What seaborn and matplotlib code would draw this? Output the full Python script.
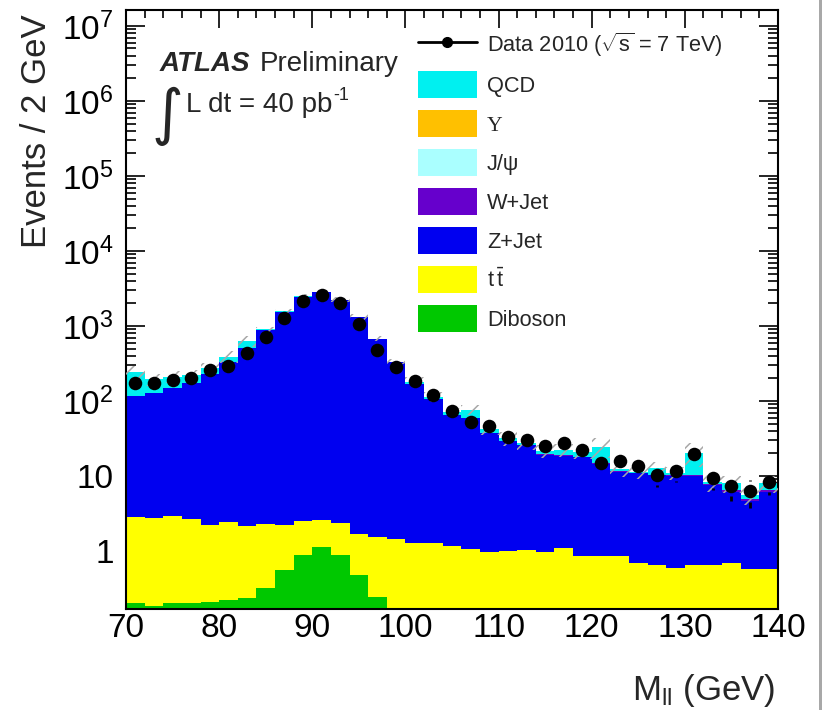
import numpy as np
import pandas as pd
import matplotlib
matplotlib.use("Agg")
import matplotlib.pyplot as plt
import seaborn as sns
from matplotlib.lines import Line2D
from matplotlib.patches import Patch, Rectangle
from matplotlib.ticker import FixedLocator, FixedFormatter, LogLocator, NullFormatter, MultipleLocator

# ---------------- data ----------------
bin_edges = list(range(70, 142, 2))
mass = np.arange(71, 141, 2)

data_events = [173, 175, 190, 203, 260, 291, 440, 710, 1290, 2150, 2600, 2030, 1050,
               478, 287, 187, 119, 74, 53, 46, 33.4, 30.2, 24.9, 27.3, 22.0,
               14.8, 15.8, 13.6, 10.4, 11.7, 19.8, 9.5, 7.4, 6.3, 8.4]

qcd = [130, 67, 63, 47, 44, 56, 126, 15, 23, 60, 30, 20, 14,
       10, 4, 12, 8, 5, 17, 4, 2.5, 1.9, 1.9, 3.2, 3.0,
       9.8, 0.6, 0.3, 2.2, 0.6, 10.2, 0.4, 1.5, 0.5, 1.5]
upsilon = [0.0] * 35
jpsi = [0.0] * 35
wjet = [0.3, 0.3, 0.3, 0.3, 0.3, 0.3, 0.3, 0.3, 0.3, 0.3, 0.3, 0.3, 0.3,
        0.3, 0.3, 0.3, 0.3, 0.3, 0.3, 0.3, 0.3, 0.3, 0.3, 0.3, 0.3,
        0.3, 0.3, 0.3, 0.3, 0.3, 0.3, 0.3, 0.3, 0.3, 0.3]
zjet = [112.9, 123.9, 144.8, 172.1, 226.5, 331.3, 502.5, 882.4, 1534.5, 2437, 2797, 2217, 1304,
        663.2, 329.3, 167.4, 104.4, 64.5, 57.6, 36.7, 28.0, 24.6, 18.3, 17.6, 16.8,
        13.6, 10.5, 10.1, 9.5, 9.4, 9.35, 6.84, 5.5, 4.12, 5.62]
ttbar = [2.60, 2.56, 2.73, 2.44, 2.03, 2.19, 1.94, 1.97, 1.69, 1.66, 1.50, 1.46, 1.19,
         1.27, 1.28, 1.10, 1.10, 0.995, 0.885, 0.795, 0.825, 0.845, 0.785, 0.915, 0.695,
         0.695, 0.675, 0.525, 0.485, 0.415, 0.475, 0.485, 0.525, 0.405, 0.405]
diboson = [0.205, 0.187, 0.20, 0.205, 0.209, 0.22, 0.239, 0.324, 0.553, 0.885, 1.12, 0.876, 0.479,
           0.244, 0.175, 0.175, 0.175, 0.175, 0.175, 0.175, 0.175, 0.175, 0.175, 0.175, 0.175,
           0.175, 0.175, 0.175, 0.175, 0.175, 0.175, 0.175, 0.175, 0.175, 0.175]
# relative MC uncertainty (hatched band)
mc_unc_frac = [0.18, 0.18, 0.18, 0.18, 0.18, 0.18, 0.18, 0.08, 0.08, 0.08, 0.08, 0.08, 0.08,
               0.08, 0.08, 0.15, 0.15, 0.15, 0.15, 0.15, 0.2, 0.2, 0.2, 0.2, 0.2,
               0.3, 0.2, 0.2, 0.2, 0.2, 0.35, 0.25, 0.25, 0.25, 0.25]

processes = ["QCD", "Upsilon", "Jpsi", "W+Jet", "Z+Jet", "ttbar", "Diboson"]
labels = ["QCD", "\u03a5", "J/\u03c8", "W+Jet", "Z+Jet", r"$\mathrm{t\,\bar{t}}$", "Diboson"]
values = [qcd, upsilon, jpsi, wjet, zjet, ttbar, diboson]
colors = {"QCD": "#00F0F0", "Upsilon": "#FFC000", "Jpsi": "#AAFFFF", "W+Jet": "#6600CC",
          "Z+Jet": "#0000F0", "ttbar": "#FFFF00", "Diboson": "#00C800"}

rows = []
for p, v in zip(processes, values):
    for m, e in zip(mass, v):
        rows.append({"mass": float(m), "events": float(e), "process": p})
df = pd.DataFrame(rows)

# ---------------- style ----------------
sns.set_style("ticks")
plt.rcParams["font.family"] = ["Liberation Sans", "DejaVu Sans"]
plt.rcParams["mathtext.fontset"] = "custom"
plt.rcParams["mathtext.rm"] = "Liberation Sans"
plt.rcParams["mathtext.it"] = "Liberation Sans:italic"
plt.rcParams["mathtext.bf"] = "Liberation Sans:bold"
plt.rcParams["hatch.linewidth"] = 1.1

W, H = 822, 710
fig = plt.figure(figsize=(W / 100, H / 100), dpi=100)
fig.patch.set_facecolor("white")
ax = fig.add_axes([126 / W, 1 - 609 / H, 652 / W, 599 / H])

sns.histplot(data=df, x="mass", weights="events", hue="process", hue_order=processes,
             palette=colors, multiple="stack", bins=bin_edges, element="step",
             fill=True, alpha=1, linewidth=0, legend=False, ax=ax)

ax.set_yscale("log")
ax.set_xlim(70, 140)
ax.set_ylim(0.1686, 1.63e7)
ax.set_xlabel("")
ax.set_ylabel("")

total = np.sum(np.array(values, dtype=float), axis=0)
unc = np.array(mc_unc_frac)
ax.bar(mass, 2 * unc * total, bottom=(1 - unc) * total, width=2,
       fill=False, hatch="//", edgecolor="#a8a8a8", linewidth=0, zorder=3)

# data: error bars drawn with a gap around the marker
d = np.array(data_events, dtype=float)
err = np.sqrt(d)
ppd = ax.transData.transform((70, 10))[1] - ax.transData.transform((70, 1))[1]
gap = 10 ** (10.5 / ppd)
lo, hi = d - err, d + err
mlo = lo < d / gap
ax.vlines(mass[mlo], lo[mlo], (d / gap)[mlo], colors="black", lw=2, zorder=4)
mhi = hi > d * gap
ax.vlines(mass[mhi], (d * gap)[mhi], hi[mhi], colors="black", lw=2, zorder=4)
sns.scatterplot(x=mass, y=d, color="black", s=95, linewidth=0, zorder=5, legend=False, ax=ax)

ax.xaxis.set_major_locator(MultipleLocator(10))
ax.xaxis.set_minor_locator(MultipleLocator(2))
ytick_vals = [1, 10, 1e2, 1e3, 1e4, 1e5, 1e6, 1e7]
ytick_labels = ["1", "10", "$10^{2}$", "$10^{3}$", "$10^{4}$", "$10^{5}$", "$10^{6}$", "$10^{7}$"]
ax.yaxis.set_major_locator(FixedLocator(ytick_vals))
ax.yaxis.set_major_formatter(FixedFormatter(ytick_labels))
ax.yaxis.set_minor_locator(LogLocator(base=10, subs=np.arange(2, 10), numticks=100))
ax.yaxis.set_minor_formatter(NullFormatter())

ax.tick_params(which="both", direction="in", top=True, right=True, width=1.2, colors="black")
ax.tick_params(axis="x", which="major", length=13, labelsize=24, pad=3)
ax.tick_params(axis="x", which="minor", length=6)
ax.tick_params(axis="y", which="major", length=14, labelsize=24, pad=9)
ax.tick_params(axis="y", which="minor", length=7)
for s in ax.spines.values():
    s.set_linewidth(1.5)
    s.set_color("black")

# axis titles
fig.text(775 / W, 1 - 700 / H, r"M$_{\mathrm{ll}}$ (GeV)", ha="right", va="baseline", fontsize=25)
fig.text(37 / W, 1 - 14 / H, "Events / 2 GeV", rotation=90, ha="center", va="top", fontsize=25)

# ATLAS label
fig.text(160 / W, 1 - 71 / H, "ATLAS", fontsize=20, fontweight="bold", fontstyle="italic", va="baseline")
fig.text(260 / W, 1 - 71 / H, "Preliminary", fontsize=20, va="baseline")
fig.text(152 / W, 1 - 116 / H, "\u222b", fontsize=44, family="DejaVu Sans", va="center", ha="left")
lumi = fig.text(186 / W, 1 - 112 / H, "L dt = 40 pb", fontsize=20, va="baseline")
fig.canvas.draw()
bb = lumi.get_window_extent(renderer=fig.canvas.get_renderer())
fig.text((bb.x1 + 1) / W, 1 - 100 / H, "-1", fontsize=13, va="baseline")

# legend
handles = [Line2D([], [], color="black", lw=2, marker="o", markersize=7)]
for p in processes:
    handles.append(Patch(facecolor=colors[p], edgecolor=colors[p], linewidth=0))
leg_labels = [r"Data 2010 ($\sqrt{\mathrm{s}}$ = 7 TeV)"] + labels
leg = ax.legend(handles, leg_labels, loc="upper left", bbox_to_anchor=(418 / W, 1 - 31 / H),
                bbox_transform=fig.transFigure, frameon=False, fontsize=15.7,
                handlelength=2.7, handleheight=1.53, labelspacing=0.55, handletextpad=0.46,
                borderpad=0, borderaxespad=0)
leg.get_texts()[2].set_family(["Liberation Serif", "DejaVu Serif"])

# right grey border of the original canvas
fig.patches.append(Rectangle((819 / W, 0), 3 / W, 1, transform=fig.transFigure,
                             facecolor="#a8a8a8", edgecolor="none"))

fig.savefig("out.png", dpi=100)
